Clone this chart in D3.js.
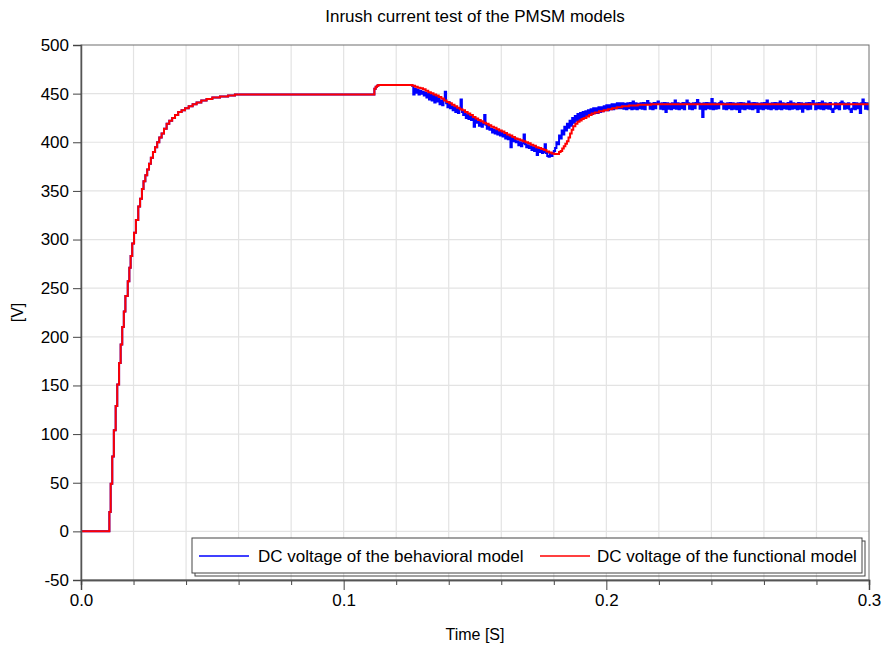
<!DOCTYPE html>
<html>
<head>
<meta charset="utf-8">
<script src="https://cdn.jsdelivr.net/npm/d3@7"></script>
<style>
  body { margin: 0; background: #fff; }
  svg { display: block; }
  text { font-family: "Liberation Sans", Arial, sans-serif; fill: #000; }
</style>
</head>
<body>
<svg id="chart" width="883" height="645"></svg>
<script>
// Start-up ramp shared by both models (sample-and-hold steps), time [s] / voltage [V]
const startupTime = [0, 0.0108, 0.0113, 0.0119, 0.0125, 0.0132, 0.0138, 0.0145, 0.0151, 0.0157,
  0.0163, 0.0169, 0.0178, 0.0184, 0.0189, 0.0195, 0.0202, 0.0209, 0.0218, 0.0225,
  0.0232, 0.0238, 0.0245, 0.0252, 0.0259, 0.0266, 0.0274, 0.0282, 0.0290, 0.0298,
  0.0307, 0.0316, 0.0326, 0.0336, 0.0347, 0.0358, 0.0370, 0.0383, 0.0396, 0.0410,
  0.0425, 0.0440, 0.0458, 0.0478, 0.0500, 0.0529, 0.0560, 0.0586, 0.1117, 0.1122,
  0.1127, 0.1132];
const startupVolt = [0, 20, 49, 77, 104, 129, 151, 173, 192, 210,
  226, 242, 257, 271, 283, 296, 307, 320, 334, 342,
  352, 360, 366, 372, 378, 384, 390, 395, 400, 405,
  409, 414, 419, 422, 425, 428, 431, 433, 435, 437,
  439, 441, 443, 444.5, 446, 447, 448, 449, 455, 457,
  458, 459];

// Functional model after load step
const functionalTime = [0.1262, 0.1272, 0.1282, 0.1292, 0.1302, 0.1312, 0.1322, 0.1332, 0.1342, 0.1352,
  0.1362, 0.1372, 0.1382, 0.1392, 0.1402, 0.1412, 0.1422, 0.1432, 0.1442, 0.1452,
  0.1462, 0.1472, 0.1482, 0.1492, 0.1502, 0.1512, 0.1522, 0.1532, 0.1542, 0.1552,
  0.1562, 0.1572, 0.1582, 0.1592, 0.1602, 0.1612, 0.1622, 0.1632, 0.1642, 0.1652,
  0.1662, 0.1672, 0.1682, 0.1692, 0.1702, 0.1712, 0.1722, 0.1732, 0.1742, 0.1752,
  0.1762, 0.1772, 0.1782, 0.1792, 0.1802, 0.1820, 0.1826, 0.1832, 0.1838, 0.1844,
  0.1850, 0.1856, 0.1862, 0.1868, 0.1874, 0.1882, 0.1890, 0.1898, 0.1906, 0.1914,
  0.1924, 0.1934, 0.1944, 0.1956, 0.1972, 0.1990, 0.2006, 0.2022, 0.2040, 0.2060,
  0.2086, 0.2120, 0.2170, 0.3000];
const functionalVolt = [458, 457, 456, 455.5, 454.5, 453, 451.5, 450.5, 449, 448,
  446.5, 445, 443, 441.5, 440, 438.5, 437, 435.5, 434, 433,
  431, 429.5, 428, 426, 424.5, 423, 421.5, 420, 419, 417.5,
  416, 415, 413.5, 412, 411, 409.5, 408, 407, 405.5, 404,
  403, 402, 401, 400, 399, 397.5, 396.5, 395, 394, 393,
  392, 390.5, 389.5, 388.5, 388, 390, 391, 393.5, 396, 398.5,
  401, 405, 409, 413, 416.5, 419, 421, 422.5, 424, 425,
  426.5, 428, 429.5, 430.5, 432, 433, 434, 435, 436, 437,
  437.8, 438.5, 439, 439];

// Behavioral model after load step: samples every 0.5 ms from 0.126 s
const behavioralStart = 0.126;
const behavioralPeriod = 0.0005;
const behavioralVolt = [
  458, 449, 455, 451, 454, 449, 453, 450, 452, 448,
  451, 446, 450, 444, 449, 443, 448, 441, 447, 442,
  445, 439, 443, 438, 444, 452, 440, 436, 441, 435,
  437, 433, 436, 431, 435, 430, 434, 444, 431, 428,
  429, 425, 428, 424, 427, 423, 426, 416, 424, 420,
  421, 417, 420, 416, 419, 428, 418, 414, 417, 413,
  414, 410, 413, 409, 412, 408, 411, 407, 410, 406,
  408, 404, 407, 403, 406, 395, 405, 401, 404, 400,
  401, 397, 400, 396, 399, 408, 398, 395, 397, 394,
  396, 392, 395, 391, 394, 387, 393, 390, 392, 389,
  390, 398, 389, 386, 385, 388, 386, 389, 391, 394,
  400, 398, 407, 404, 412, 408, 416, 412, 419, 415,
  422, 417, 425, 420, 427, 422, 429, 423, 430, 425,
  431, 426, 432, 427, 433, 428, 434, 429, 435, 430,
  435, 430, 436, 431, 436, 432, 437, 433, 438, 433,
  438, 434, 439, 434, 439, 435, 440, 435, 440, 435,
  440, 434.5, 439.5, 434, 440, 435, 440.5, 434, 442, 434.5,
  440, 434, 439.5, 435, 440, 434.5, 440.5, 434, 440, 442.5,
  440, 434.5, 439.5, 434, 440.5, 435, 440, 442, 439.5, 434.5,
  440, 434, 440.5, 431, 440, 434.5, 439.5, 434, 440, 435,
  443, 434.5, 440, 434, 439.5, 435, 440.5, 434, 440, 443,
  440, 434.5, 439.5, 434, 440, 435, 440.5, 443.5, 440, 434.5,
  439.5, 426, 440, 434, 440.5, 435, 440, 434.5, 444.5, 434,
  440, 434.5, 439.5, 435, 440.5, 442, 440, 434.5, 439.5, 434,
  440, 435, 440.5, 434, 440, 434.5, 439.5, 434, 440, 431,
  440.5, 434.5, 440, 434, 439.5, 435, 442, 434.5, 440, 434,
  440.5, 435, 440, 431, 439.5, 434.5, 440, 434, 440.5, 435,
  443, 434.5, 439.5, 434, 440, 435, 440.5, 434, 440, 434.5,
  442, 434, 440, 435, 439.5, 434.5, 440.5, 434, 442, 434.5,
  440, 435, 439.5, 434, 440.5, 434.5, 440, 431.5, 439.5, 435,
  440, 434, 440.5, 434.5, 440, 442.5, 439.5, 434, 440, 435,
  440.5, 434.5, 442, 434, 440, 435, 439.5, 434.5, 440.5, 434,
  431, 434.5, 440, 435, 439.5, 434, 440.5, 442, 440, 434.5,
  439.5, 435, 440, 434, 431, 434.5, 440.5, 434, 440, 435,
  439.5, 430, 440, 444, 440.5, 434.5, 440, 434, 439.5
];

const xMajorTicks = [0, 0.1, 0.2, 0.3];
const xMinorTicks = [0.02, 0.04, 0.06, 0.08, 0.12, 0.14, 0.16, 0.18, 0.22, 0.24, 0.26, 0.28];
const xGridTicks = [0.02, 0.04, 0.06, 0.08, 0.1, 0.12, 0.14, 0.16, 0.18, 0.2, 0.22, 0.24, 0.26, 0.28];
const yTicks = [-50, 0, 50, 100, 150, 200, 250, 300, 350, 400, 450, 500];

const titleText = "Inrush current test of the PMSM models";
const xLabel = "Time [S]";
const yLabel = "[V]";
const seriesNames = ["DC voltage of the behavioral model", "DC voltage of the functional model"];
const seriesColors = ["#0000ff", "#ff0000"];

// Assemble point lists
const startupPts = startupTime.map((t, i) => [t, startupVolt[i]]);
const functional = startupPts.concat([[0.1258, 459]], functionalTime.map((t, i) => [t, functionalVolt[i]]));
const behavioral = startupPts.concat([[0.1258, 459]],
  behavioralVolt.map((v, i) => [behavioralStart + i * behavioralPeriod, v]));

const svg = d3.select("#chart");
const plotLeft = 81, plotRight = 869, plotTop = 45, plotBottom = 580;
const x = d3.scaleLinear().domain([0, 0.3]).range([plotLeft, plotRight]);
const y = d3.scaleLinear().domain([-50, 500]).range([plotBottom, plotTop]);

// Grid
const grid = svg.append("g").attr("stroke", "#e3e3e3").attr("stroke-width", 1.2);
grid.selectAll(".gx").data(xGridTicks).join("line")
  .attr("x1", d => x(d)).attr("x2", d => x(d)).attr("y1", plotTop).attr("y2", plotBottom);
grid.selectAll(".gy").data(yTicks.slice(1, -1)).join("line")
  .attr("x1", plotLeft).attr("x2", plotRight).attr("y1", d => y(d)).attr("y2", d => y(d));

// Series
svg.append("clipPath").attr("id", "plotclip").append("rect")
  .attr("x", plotLeft).attr("y", plotTop).attr("width", plotRight - plotLeft).attr("height", plotBottom - plotTop);
const line = d3.line().x(d => x(d[0])).y(d => y(d[1])).curve(d3.curveStepAfter);
const plot = svg.append("g").attr("clip-path", "url(#plotclip)");
plot.append("path").datum(behavioral).attr("d", line)
  .attr("fill", "none").attr("stroke", seriesColors[0]).attr("stroke-width", 2);
plot.append("path").datum(functional).attr("d", line)
  .attr("fill", "none").attr("stroke", seriesColors[1]).attr("stroke-width", 2);

// Frame
svg.append("rect").attr("x", plotLeft).attr("y", plotTop).attr("width", plotRight - plotLeft).attr("height", plotBottom - plotTop)
  .attr("fill", "none").attr("stroke", "#6e6e6e").attr("stroke-width", 1);

// Axes
const axisFont = 17;
const yAxis = svg.append("g").attr("transform", `translate(${plotLeft},0)`)
  .call(d3.axisLeft(y).tickValues(yTicks).tickSize(8).tickPadding(4).tickFormat(d => String(d)));
const xMinorAxis = svg.append("g").attr("transform", `translate(0,${plotBottom})`)
  .call(d3.axisBottom(x).tickValues(xMinorTicks).tickSize(5).tickFormat(""));
const xAxis = svg.append("g").attr("transform", `translate(0,${plotBottom})`)
  .call(d3.axisBottom(x).tickValues(xMajorTicks).tickSize(10).tickPadding(4).tickFormat(d3.format(".1f")));
[yAxis, xMinorAxis, xAxis].forEach(g => {
  g.select(".domain").attr("stroke", "#555").attr("stroke-width", 1.5);
  g.selectAll(".tick line").attr("stroke", "#444");
  g.selectAll("text").attr("font-size", axisFont).attr("font-family", "Liberation Sans, Arial, sans-serif").attr("fill", "#000");
});

// Titles
svg.append("text").attr("x", (plotLeft + plotRight) / 2).attr("y", 22).attr("text-anchor", "middle")
  .attr("font-size", 17).text(titleText);
svg.append("text").attr("x", (plotLeft + plotRight) / 2).attr("y", 640).attr("text-anchor", "middle")
  .attr("font-size", 16).text(xLabel);
svg.append("text").attr("transform", `translate(23,${(plotTop + plotBottom) / 2}) rotate(-90)`)
  .attr("text-anchor", "middle").attr("font-size", 16).text(yLabel);

// Legend
const lg = svg.append("g");
lg.append("rect").attr("x", 195).attr("y", 541).attr("width", 670).attr("height", 35)
  .attr("fill", "none").attr("stroke", "#444").attr("stroke-width", 1);
lg.append("rect").attr("x", 192).attr("y", 538).attr("width", 670).attr("height", 35)
  .attr("fill", "#fff").attr("stroke", "#444").attr("stroke-width", 1);
const legendItems = [
  { x0: 199, x1: 249, tx: 258 },
  { x0: 540, x1: 590, tx: 597 }
];
legendItems.forEach((it, i) => {
  lg.append("line").attr("x1", it.x0).attr("x2", it.x1).attr("y1", 556).attr("y2", 556)
    .attr("stroke", seriesColors[i]).attr("stroke-width", 1.5);
  lg.append("text").attr("x", it.tx).attr("y", 562).attr("font-size", 17).text(seriesNames[i]);
});
</script>
</body>
</html>
